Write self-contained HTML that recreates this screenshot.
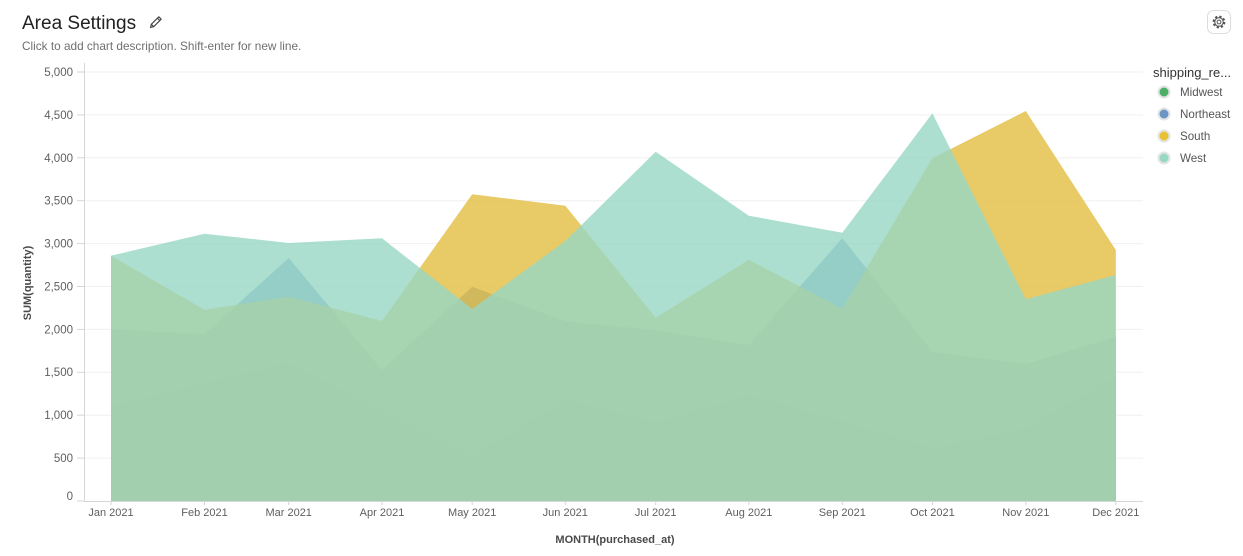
<!DOCTYPE html>
<html>
<head>
<meta charset="utf-8">
<style>
  html,body{margin:0;padding:0;background:#fff;}
  body{width:1243px;height:556px;overflow:hidden;font-family:"Liberation Sans",Arial,sans-serif;}
  svg{display:block;}
  text{font-family:"Liberation Sans",Arial,sans-serif;}
</style>
</head>
<body>
<svg width="1243" height="556" viewBox="0 0 1243 556" xmlns="http://www.w3.org/2000/svg">
  <rect width="1243" height="556" fill="#fff"/>

  <!-- Title -->
  <text x="22" y="29" font-size="19" fill="#222">Area Settings</text>
  <!-- pencil icon -->
  <g transform="translate(149,15)" fill="none" stroke="#444" stroke-width="1.1" stroke-linejoin="round">
    <path d="M1.5 12.5 L2.3 9.3 L9.8 1.8 L12.2 4.2 L4.7 11.7 Z"/>
    <path d="M8.4 3.2 L10.8 5.6"/>
    <path d="M2.3 9.3 L4.7 11.7"/>
  </g>
  <text x="22" y="50" font-size="11.8" fill="#6f6f6f">Click to add chart description. Shift-enter for new line.</text>

  <!-- gear button -->
  <rect x="1207.5" y="10.5" width="23" height="23" rx="6" fill="#fff" stroke="#dcdcdc"/>
  <g transform="translate(1219,22)" fill="none" stroke="#555" stroke-width="1">
    <circle r="5.2" stroke-dasharray="2.2 1.9" stroke-width="2.4"/>
    <circle r="4.2"/>
    <circle r="1.9"/>
  </g>

  <!-- gridlines -->
  <g stroke="#f0f0f0" stroke-width="1">
    <line x1="84" x2="1143" y1="72" y2="72"/>
    <line x1="84" x2="1143" y1="114.9" y2="114.9"/>
    <line x1="84" x2="1143" y1="157.8" y2="157.8"/>
    <line x1="84" x2="1143" y1="200.7" y2="200.7"/>
    <line x1="84" x2="1143" y1="243.6" y2="243.6"/>
    <line x1="84" x2="1143" y1="286.5" y2="286.5"/>
    <line x1="84" x2="1143" y1="329.4" y2="329.4"/>
    <line x1="84" x2="1143" y1="372.3" y2="372.3"/>
    <line x1="84" x2="1143" y1="415.2" y2="415.2"/>
    <line x1="84" x2="1143" y1="458.1" y2="458.1"/>
  </g>

  <!-- areas -->
  <g fill-opacity="0.8">
    <!-- Midwest -->
    <polygon fill="#4caf66" points="111,501 111,405.7 204.5,383.2 288.7,363 382,411 472.2,456 565.3,400 655.7,422.7 748.8,395 842.3,421 932.4,448.3 1025.8,428.3 1115.8,376.7 1115.8,501"/>
    <!-- Northeast -->
    <polygon fill="#6c94c4" points="111,501 111,329 204.5,334 288.7,258 382,370 472.2,286.7 565.3,321.3 655.7,330 748.8,345 842.3,238 932.4,351.7 1025.8,364 1115.8,336.7 1115.8,501"/>
    <!-- South -->
    <polygon fill="#e2bd40" points="111,501 111,255.7 204.5,309.7 288.7,296.7 382,321 472.2,194.3 565.3,205.7 655.7,317.7 748.8,259.7 842.3,308.7 932.4,158.3 1025.8,111 1115.8,250 1115.8,501"/>
    <!-- West -->
    <polygon fill="#97d7c4" points="111,501 111,255.7 204.5,233.7 288.7,243 382,238.3 472.2,309 565.3,241 655.7,151.7 748.8,215.7 842.3,232.8 932.4,113.3 1025.8,299.3 1115.8,275 1115.8,501"/>
  </g>

  <!-- axes -->
  <line x1="84.5" y1="63" x2="84.5" y2="501" stroke="#d6d6d6" stroke-width="1"/>
  <line x1="84" y1="501.5" x2="1143" y2="501.5" stroke="#d6d6d6" stroke-width="1"/>

  <!-- y ticks -->
  <g stroke="#d6d6d6" stroke-width="1">
    <line x1="77" x2="84" y1="72" y2="72"/>
    <line x1="77" x2="84" y1="114.9" y2="114.9"/>
    <line x1="77" x2="84" y1="157.8" y2="157.8"/>
    <line x1="77" x2="84" y1="200.7" y2="200.7"/>
    <line x1="77" x2="84" y1="243.6" y2="243.6"/>
    <line x1="77" x2="84" y1="286.5" y2="286.5"/>
    <line x1="77" x2="84" y1="329.4" y2="329.4"/>
    <line x1="77" x2="84" y1="372.3" y2="372.3"/>
    <line x1="77" x2="84" y1="415.2" y2="415.2"/>
    <line x1="77" x2="84" y1="458.1" y2="458.1"/>
    <line x1="77" x2="84" y1="501" y2="501"/>
  </g>
  <g font-size="11.5" fill="#5f5f5f" text-anchor="end">
    <text x="73" y="76">5,000</text>
    <text x="73" y="119">4,500</text>
    <text x="73" y="162">4,000</text>
    <text x="73" y="204.5">3,500</text>
    <text x="73" y="247.5">3,000</text>
    <text x="73" y="290.5">2,500</text>
    <text x="73" y="333.5">2,000</text>
    <text x="73" y="376">1,500</text>
    <text x="73" y="419">1,000</text>
    <text x="73" y="462">500</text>
    <text x="73" y="500">0</text>
  </g>

  <!-- x ticks -->
  <g stroke="#d6d6d6" stroke-width="1">
    <line x1="111" x2="111" y1="501" y2="505"/>
    <line x1="204.5" x2="204.5" y1="501" y2="505"/>
    <line x1="288.7" x2="288.7" y1="501" y2="505"/>
    <line x1="382" x2="382" y1="501" y2="505"/>
    <line x1="472.2" x2="472.2" y1="501" y2="505"/>
    <line x1="565.3" x2="565.3" y1="501" y2="505"/>
    <line x1="655.7" x2="655.7" y1="501" y2="505"/>
    <line x1="748.8" x2="748.8" y1="501" y2="505"/>
    <line x1="842.3" x2="842.3" y1="501" y2="505"/>
    <line x1="932.4" x2="932.4" y1="501" y2="505"/>
    <line x1="1025.8" x2="1025.8" y1="501" y2="505"/>
    <line x1="1115.8" x2="1115.8" y1="501" y2="505"/>
  </g>
  <g font-size="11" fill="#5f5f5f" text-anchor="middle">
    <text x="111" y="516">Jan 2021</text>
    <text x="204.5" y="516">Feb 2021</text>
    <text x="288.7" y="516">Mar 2021</text>
    <text x="382" y="516">Apr 2021</text>
    <text x="472.2" y="516">May 2021</text>
    <text x="565.3" y="516">Jun 2021</text>
    <text x="655.7" y="516">Jul 2021</text>
    <text x="748.8" y="516">Aug 2021</text>
    <text x="842.3" y="516">Sep 2021</text>
    <text x="932.4" y="516">Oct 2021</text>
    <text x="1025.8" y="516">Nov 2021</text>
    <text x="1115.8" y="516">Dec 2021</text>
  </g>

  <!-- axis titles -->
  <text x="615" y="543" font-size="11" font-weight="bold" fill="#4a4a4a" text-anchor="middle">MONTH(purchased_at)</text>
  <text transform="translate(31,283) rotate(-90)" font-size="11" font-weight="bold" fill="#4a4a4a" text-anchor="middle">SUM(quantity)</text>

  <!-- legend -->
  <text x="1153" y="77" font-size="13" fill="#333">shipping_re...</text>
  <g stroke="#e4e4e4" stroke-width="2">
    <circle cx="1164" cy="92" r="5.5" fill="#4caf66"/>
    <circle cx="1164" cy="114" r="5.5" fill="#6c94c4"/>
    <circle cx="1164" cy="136" r="5.5" fill="#e8c232"/>
    <circle cx="1164" cy="158" r="5.5" fill="#97d9c5"/>
  </g>
  <g font-size="11.6" fill="#555">
    <text x="1180" y="96">Midwest</text>
    <text x="1180" y="118">Northeast</text>
    <text x="1180" y="140">South</text>
    <text x="1180" y="162">West</text>
  </g>
</svg>
</body>
</html>
